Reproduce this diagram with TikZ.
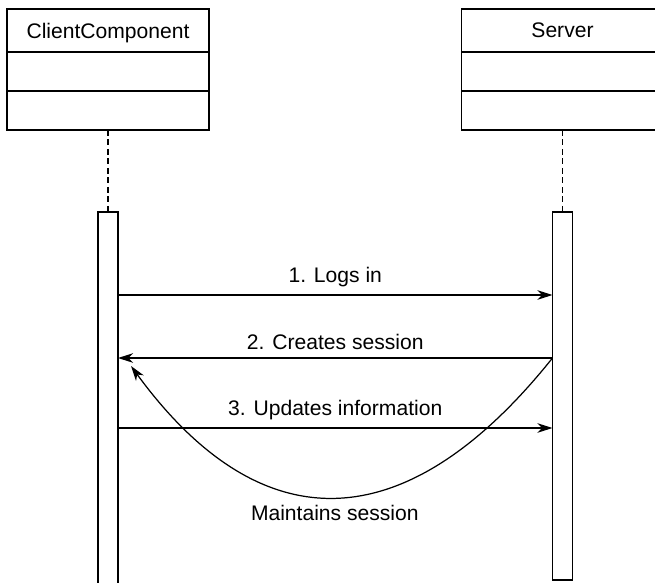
\documentclass[tikz,border=0pt]{standalone}
\usepackage{fontspec}
\setmainfont{Liberation Sans}
\usetikzlibrary{arrows.meta,positioning}
\begin{document}
\begin{tikzpicture}[
  font=\fontsize{12}{14}\selectfont,
  classhead/.style={draw,line width=0.8pt,outer sep=0pt,minimum width=4.04cm,minimum height=0.86cm,text depth=0pt},
  compartment/.style={draw,line width=0.8pt,outer sep=0pt,minimum width=4.04cm,minimum height=0.78cm},
  lifeline/.style={draw,line width=0.6pt,dash pattern=on 3.4pt off 2pt},
  activation/.style={draw,line width=0.8pt,outer sep=0pt,minimum width=0.4cm,anchor=north},
  msg/.style={draw,line width=0.7pt,-{Stealth[length=0.3cm,width=0.19cm,inset=0.09cm]}},
  msglabel/.style={above=1pt}
]
\useasboundingbox (0,0) rectangle (13.1,-11.66);
\node[classhead] (client) at (2.16,-0.61) {ClientComponent};
\node[compartment,below=0pt of client] (clientattr) {};
\node[compartment,below=0pt of clientattr] (clientops) {};
\node[classhead] (server) at (11.25,-0.61) {Server};
\node[compartment,below=0pt of server] (serverattr) {};
\node[compartment,below=0pt of serverattr] (serverops) {};
\node[activation,minimum height=7.6cm] (clientbar) at (2.16,-4.24) {};
\node[activation,minimum height=7.36cm] (serverbar) at (11.25,-4.24) {};
\draw[lifeline] (clientops) -- (clientbar);
\draw[lifeline] (serverops) -- (serverbar);
\coordinate (sessiontip) at (2.62,-7.32);
\draw[msg] (clientbar.east |- 0,-5.9) -- node[msglabel]{1. Logs in} (serverbar.west |- 0,-5.9);
\draw[msg] (serverbar.west |- 0,-7.16) -- node[msglabel]{2. Creates session} (clientbar.east |- 0,-7.16);
\draw[msg] (clientbar.east |- 0,-8.56) -- node[msglabel]{3. Updates information} (serverbar.west |- 0,-8.56);
\draw[msg] (serverbar.west |- 0,-7.16) .. controls (8.1,-10.85) and (5.2,-10.85) .. node[pos=0.5,below=1pt]{Maintains session} (sessiontip);
\end{tikzpicture}
\end{document}
